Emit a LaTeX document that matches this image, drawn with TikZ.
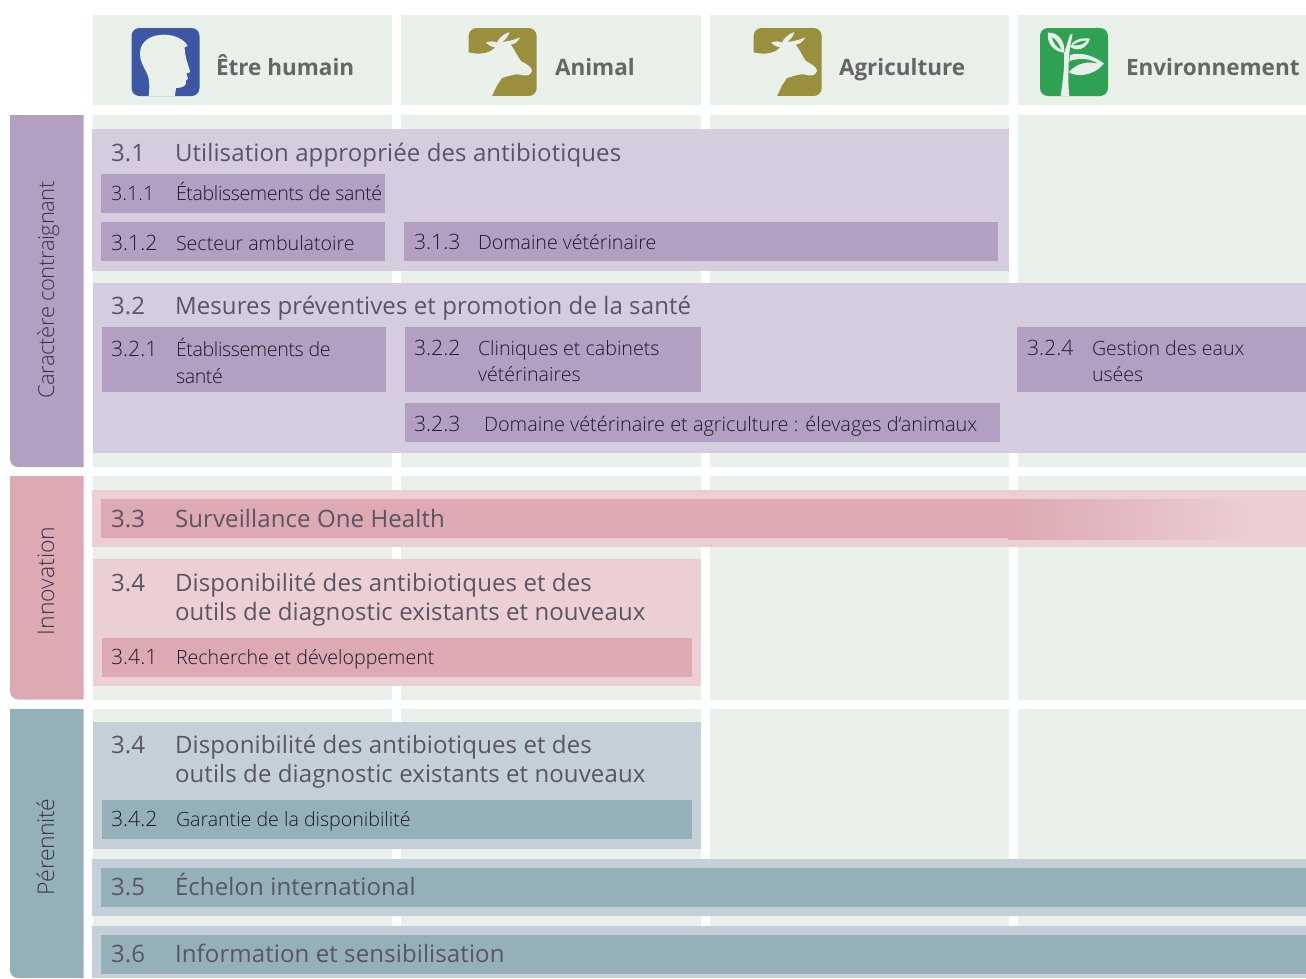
\documentclass[tikz,border=0pt]{standalone}
\usepackage{fontspec}
\setmainfont{Open Sans Light}
\newfontfamily\hdfont{Open Sans}
\newfontfamily\ttlfont{Open Sans}[LetterSpace=0.5]
\newfontfamily\tightfont{Open Sans Light}[LetterSpace=-1.9]
\usetikzlibrary{shadings}
\definecolor{gridc}{HTML}{E8F0E9}
\definecolor{purd}{HTML}{B39FC2}
\definecolor{purl}{HTML}{D5CCE0}
\definecolor{pind}{HTML}{DDA9B2}
\definecolor{pinl}{HTML}{ECCFD5}
\definecolor{teald}{HTML}{94B0B9}
\definecolor{teall}{HTML}{C3D0D7}
\definecolor{iconblue}{HTML}{3D57A5}
\definecolor{iconolive}{HTML}{998F3D}
\definecolor{icongreen}{HTML}{2FA153}
\definecolor{headc}{HTML}{666666}
\definecolor{titlec}{HTML}{5A5564}
\definecolor{subc}{HTML}{1E1A26}
\definecolor{sidec}{HTML}{3A3545}
\newcommand{\fsz}[2]{\fontsize{#1}{#2}\selectfont}
\tikzset{
  x=1pt,y=-1pt,
  every node/.style={inner sep=0pt,outer sep=0pt},
  cell/.style={fill=gridc,draw=none},
  hd/.style={anchor=base west,text=headc,font=\fsz{22.5}{30}\hdfont\bfseries},
  ttl/.style={anchor=base west,text=titlec,align=left,font=\fsz{24}{29}\ttlfont},
  sub/.style={anchor=base west,text=subc,align=left,font=\fsz{19.6}{26}\selectfont},
  subn/.style={sub,font=\fsz{21.2}{26}\selectfont},
  side/.style={anchor=base,rotate=90,text=sidec},
  sicon/.style={fill=gridc,draw=none},
}
\newcommand{\cowicon}[1]{%
  \begin{scope}[shift={(#1,22)},x=0.3333pt,y=-0.3333pt]
    \fill[iconolive,rounded corners=8pt] (20,18) rectangle (224,222);
    \fill[sicon] (15,90) .. controls (40,96) and (65,98) .. (88,86)
      -- (100,76) .. controls (88,74) and (78,70) .. (72,62)
      .. controls (85,56) and (98,58) .. (105,62)
      .. controls (110,48) and (125,36) .. (142,30)
      .. controls (140,42) and (132,52) .. (120,60)
      .. controls (138,58) and (158,54) .. (174,46)
      .. controls (168,60) and (158,66) .. (146,68)
      .. controls (158,82) and (168,108) .. (178,118)
      .. controls (190,124) and (210,135) .. (210,146)
      .. controls (208,158) and (195,162) .. (185,160)
      .. controls (165,152) and (140,162) .. (120,168)
      -- (105,190) -- (88,226) -- (15,226) -- cycle;
  \end{scope}}
\begin{document}
\begin{tikzpicture}
\useasboundingbox (0,0) rectangle (1306,978);
% grid cells
\foreach \a/\b in {93/392,401/701,710/1009,1018/1306}{
  \fill[cell] (\a,15) rectangle (\b,105);
  \fill[cell] (\a,115) rectangle (\b,467);
  \fill[cell] (\a,476) rectangle (\b,700);
  \fill[cell] (\a,709) rectangle (\b,978);
}
% side tabs
\fill[purd] (83.5,115) -- (10,115) [rounded corners=8pt] -- (10,467) [sharp corners] -- (83.5,467) -- cycle;
\fill[pind] (83.5,476) -- (10,476) [rounded corners=8pt] -- (10,699.5) [sharp corners] -- (83.5,699.5) -- cycle;
\fill[teald] (83.5,709) -- (10,709) [rounded corners=8pt] -- (10,978) [sharp corners] -- (83.5,978) -- cycle;
\node[side,font=\fsz{22}{26}\tightfont] (sa) at (54,290) {Caractère contraignant};
\node[side,font=\fsz{23}{28}\selectfont] (sb) at (54,581) {Innovation};
\node[side,font=\fsz{23}{26}\tightfont] (sc) at (54,847) {Pérennité};
% icons
\fill[iconblue,rounded corners=8pt] (131.5,28) rectangle (199.5,96);
\begin{scope}[shift={(126,22)},x=0.3333pt,y=-0.3333pt]
  \fill[sicon] (68,222) .. controls (72,190) and (70,165) .. (60,148)
    .. controls (50,130) and (42,115) .. (42,95)
    .. controls (42,60) and (70,38) .. (115,38)
    .. controls (145,38) and (175,52) .. (185,72)
    -- (176,76) .. controls (176,100) and (185,125) .. (193,150)
    -- (181,155) -- (186,170) -- (180,176)
    .. controls (182,192) and (172,197) .. (150,198)
    -- (147,222) -- cycle;
\end{scope}
\cowicon{462}
\cowicon{747}
\fill[icongreen,rounded corners=8pt] (1040,28) rectangle (1108,96);
\begin{scope}[shift={(1034,22)},x=0.3333pt,y=-0.3333pt]
  % stem
  \fill[sicon] (80,222) .. controls (86,180) and (92,140) .. (90,95)
    -- (108,38) -- (116,36) -- (108,75) .. controls (104,110) and (100,170) .. (106,222) -- cycle;
  % left leaf
  \fill[sicon] (42,32) .. controls (70,30) and (95,55) .. (90,92)
    .. controls (62,90) and (36,65) .. (42,32) -- cycle;
  \fill[icongreen] (54,46) .. controls (66,52) and (74,64) .. (82,82)
    .. controls (68,76) and (58,64) .. (54,46) -- cycle;
  % upper right leaf
  \fill[sicon] (168,50) .. controls (160,76) and (135,92) .. (108,75)
    .. controls (115,55) and (140,45) .. (168,50) -- cycle;
  \fill[icongreen] (116,70) .. controls (128,60) and (142,56) .. (158,56)
    .. controls (148,68) and (132,72) .. (116,70) -- cycle;
  % lower right leaf
  \fill[sicon] (210,125) .. controls (180,100) and (135,88) .. (108,100)
    -- (103,150) .. controls (125,165) and (175,165) .. (210,125) -- cycle;
  \fill[icongreen] (106,118) .. controls (130,108) and (165,108) .. (190,124)
    .. controls (160,118) and (130,122) .. (104,150) -- cycle;
\end{scope}
\node[hd] (h1) at (216,75) {Être humain};
\node[hd] (h2) at (555,75) {Animal};
\node[hd] (h3) at (839,75) {Agriculture};
\node[hd] (h4) at (1126,75) {Environnement};
% light blocks
\fill[purl] (92,129) rectangle (1009,271);
\fill[purl] (93,283) rectangle (1306,453);
\fill[pinl] (92,490) rectangle (1306,547);
\fill[pinl] (93,559) rectangle (701,686);
\fill[teall] (93,722) rectangle (701,849);
\fill[teall] (92,859) rectangle (1306,916);
\fill[teall] (92,926) rectangle (1306,978);
% dark blocks
\fill[purd] (101,174) rectangle (385,213);
\fill[purd] (101,222) rectangle (385,261);
\fill[purd] (404,222) rectangle (998,261);
\fill[purd] (102,327) rectangle (386,392);
\fill[purd] (405,327) rectangle (701,392);
\fill[purd] (1017,327) rectangle (1306,392);
\fill[purd] (405,403) rectangle (1000,442);
\fill[pind] (101,499) rectangle (1009,538);
\shade[left color=pind,right color=pinl] (1008,499) rectangle (1262,539);
\fill[pind] (102,638) rectangle (692,677);
\fill[teald] (102,800) rectangle (692,839);
\fill[teald] (101,868) rectangle (1306,907);
\fill[teald] (101,935) rectangle (1306,974);
% titles
\node[ttl] (n31) at (111,161) {3.1};
\node[ttl] (t31) at (175,161) {Utilisation appropriée des antibiotiques};
\node[ttl] (n32) at (111,314) {3.2};
\node[ttl] (t32) at (175,314) {Mesures préventives et promotion de la santé};
\node[ttl] (n33) at (111,527) {3.3};
\node[ttl] (t33) at (175,527) {Surveillance One Health};
\node[ttl] (n34) at (111,591) {3.4};
\node[ttl] (t34) at (175,620) {Disponibilité des antibiotiques et des\\outils de diagnostic existants et nouveaux};
\node[ttl] (n34b) at (111,753) {3.4};
\node[ttl] (t34b) at (175,782) {Disponibilité des antibiotiques et des\\outils de diagnostic existants et nouveaux};
\node[ttl] (n35) at (111,895) {3.5};
\node[ttl] (t35) at (175,895) {Échelon international};
\node[ttl] (n36) at (111,962) {3.6};
\node[ttl] (t36) at (175,962) {Information et sensibilisation};
% subs
\node[subn,font=\fsz{19.8}{26}\selectfont] (n311) at (111,200) {3.1.1};
\node[sub,font=\fsz{19.6}{26}\tightfont] (t311) at (176,200) {Établissements de santé};
\node[subn] (n312) at (111,250) {3.1.2};
\node[sub] (t312) at (176,250) {Secteur ambulatoire};
\node[subn] (n313) at (414,249) {3.1.3};
\node[sub] (t313) at (478,249) {Domaine vétérinaire};
\node[subn] (n321) at (111,356) {3.2.1};
\node[sub,font=\fsz{19.6}{27}\tightfont] (t321) at (176,383) {Établissements de\\santé};
\node[subn] (n322) at (414,355) {3.2.2};
\node[sub] (t322) at (478,381) {Cliniques et cabinets\\vétérinaires};
\node[subn] (n324) at (1027,355) {3.2.4};
\node[sub] (t324) at (1092,381) {Gestion des eaux\\usées};
\node[subn] (n323) at (414,431) {3.2.3};
\node[sub,font=\fsz{19.9}{26}\selectfont] (t323) at (484,431) {Domaine vétérinaire et agriculture : élevages d‘animaux};
\node[subn] (n341) at (111,664) {3.4.1};
\node[sub] (t341) at (176,664) {Recherche et développement};
\node[subn] (n342) at (111,826) {3.4.2};
\node[sub] (t342) at (176,826) {Garantie de la disponibilité};
\end{tikzpicture}
\end{document}
